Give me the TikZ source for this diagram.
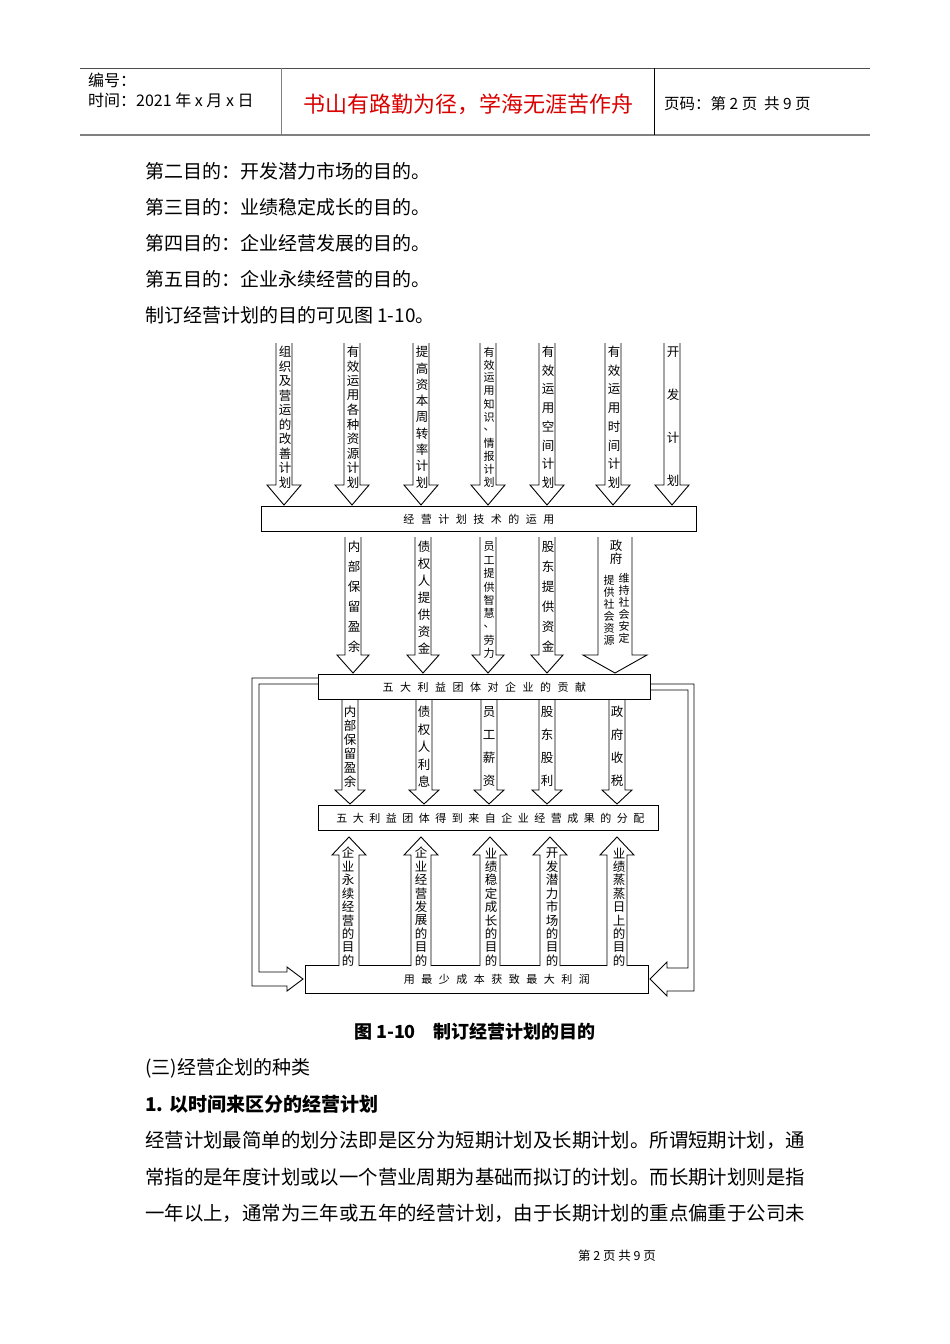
\documentclass[tikz,border=0pt]{standalone}
\usepackage{fontspec}
\setmainfont{Noto Sans CJK SC}
\newcommand\dnarrow[6]{\draw[arr] ({#1-#5},{-#2}) -- ({#1-#5},{-#3}) -- ({#1-#6},{-#3}) -- (#1,{-#4}) -- ({#1+#6},{-#3}) -- ({#1+#5},{-#3}) -- ({#1+#5},{-#2});}
\newcommand\vtext[4]{\foreach \c [count=\i] in {#4} \node[vt] at (#1,{-(#2+(\i-1)*#3)}) {\c};}
\newcommand\vtextS[4]{\foreach \c [count=\i] in {#4} \node[vt,font=\fontsize{11}{12}\selectfont] at (#1,{-(#2+(\i-1)*#3)}) {\c};}
\newcommand\gp{\hspace{6.5pt}}
\begin{document}
\begin{tikzpicture}[x=1pt,y=1pt,
 arr/.style={draw=black,line width=0.9pt,fill=white,line join=miter},
 vt/.style={font=\fontsize{12.5}{13}\selectfont,inner sep=0pt},
 boxs/.style={draw=black,line width=0.9pt,fill=white},
 btxt/.style={font=\fontsize{11}{12}\selectfont},
 body/.style={anchor=west,inner sep=0pt,font=\fontsize{19}{20}\selectfont},
 para/.style={anchor=west,inner sep=0pt,font=\fontsize{19.4}{20}\selectfont}]
\useasboundingbox (0,0) rectangle (950,-1344);
% header
\draw[line width=0.8pt,gray!60!black] (80,-68) -- (870,-68);
\draw[line width=1.2pt,gray] (80,-135) -- (870,-135);
\draw[line width=0.8pt,gray] (281,-68) -- (281,-135);
\draw[line width=0.8pt,black] (654,-68) -- (654,-135);
\node[anchor=west,inner sep=0pt,font=\fontsize{16}{17}\selectfont] (h1) at (88,-80) {编号：};
\node[anchor=west,inner sep=0pt,font=\fontsize{16}{17}\selectfont] (h2) at (88,-100) {时间：2021 年 x 月 x 日};
\node[inner sep=0pt,text=red!85!black,font=\fontsize{22}{23}\selectfont] (h3) at (468,-104) {书山有路勤为径，学海无涯苦作舟};
\node[anchor=west,inner sep=0pt,font=\fontsize{15.5}{16}\selectfont] (h4) at (664,-104) {页码：第 2 页\ \ 共 9 页};
% body
\node[body] (t1) at (145,-171) {第二目的：开发潜力市场的目的。};
\node[body] (t2) at (145,-207) {第三目的：业绩稳定成长的目的。};
\node[body] (t3) at (145,-243) {第四目的：企业经营发展的目的。};
\node[body] (t4) at (145,-279) {第五目的：企业永续经营的目的。};
\node[body] (t5) at (145,-315) {制订经营计划的目的可见图 1-10。};
% top arrows
\foreach \xx in {284,352,421,488,547,613,672}{\dnarrow{\xx}{343}{485}{505}{8}{17}}
\vtext{285}{352}{14.5}{组,织,及,营,运,的,改,善,计,划}
\vtext{353}{352}{14.5}{有,效,运,用,各,种,资,源,计,划}
\vtext{422}{352}{16.3}{提,高,资,本,周,转,率,计,划}
\vtextS{489}{352}{13}{有,效,运,用,知,识,、,情,报,计,划}
\vtext{548}{352}{18.7}{有,效,运,用,空,间,计,划}
\vtext{614}{352}{18.7}{有,效,运,用,时,间,计,划}
\vtext{673}{352}{43}{开,发,计,划}
\node[boxs,minimum width=435pt,minimum height=25pt,anchor=north west,inner sep=0pt] (b1) at (261,-506) {};
\node[btxt] at (b1) {经\gp 营\gp 计\gp 划\gp 技\gp 术\gp 的\gp 运\gp 用};
% second row
\foreach \xx in {353,423,488,547}{\dnarrow{\xx}{537}{655}{673}{8}{16}}
\dnarrow{615}{537}{655}{673}{17}{32}
\vtext{354}{547}{20}{内,部,保,留,盈,余}
\vtext{424}{547}{17}{债,权,人,提,供,资,金}
\vtextS{489}{547}{13.3}{员,工,提,供,智,慧,、,劳,力}
\vtext{548}{547}{20}{股,东,提,供,资,金}
\vtext{616}{546}{12.5}{政,府}
\vtextS{624}{578}{12}{维,持,社,会,安,定}
\vtextS{609}{580}{12}{提,供,社,会,资,源}
\node[boxs,minimum width=332pt,minimum height=25pt,anchor=north west,inner sep=0pt] (b2) at (318,-674) {};
\node[btxt] at (b2) {五\gp 大\gp 利\gp 益\gp 团\gp 体\gp 对\gp 企\gp 业\gp 的\gp 贡\gp 献};
% third row
\foreach \xx in {350,424,489,547,617}{\dnarrow{\xx}{700}{790}{804}{8}{15}}
\vtext{350}{712}{14}{内,部,保,留,盈,余}
\vtext{424}{712}{17.5}{债,权,人,利,息}
\vtext{489}{712}{23}{员,工,薪,资}
\vtext{547}{712}{23}{股,东,股,利}
\vtext{617}{712}{23}{政,府,收,税}
\node[boxs,minimum width=340pt,minimum height=25pt,anchor=north west,inner sep=0pt] (b3) at (318,-805) {};
\node[btxt] at ([xshift=2pt]b3) {五\hspace{5.5pt}大\hspace{5.5pt}利\hspace{5.5pt}益\hspace{5.5pt}团\hspace{5.5pt}体\hspace{5.5pt}得\hspace{5.5pt}到\hspace{5.5pt}来\hspace{5.5pt}自\hspace{5.5pt}企\hspace{5.5pt}业\hspace{5.5pt}经\hspace{5.5pt}营\hspace{5.5pt}成\hspace{5.5pt}果\hspace{5.5pt}的\hspace{5.5pt}分\hspace{5.5pt}配};
% bottom box then up arrows
\node[boxs,minimum width=343pt,minimum height=28pt,anchor=north west,inner sep=0pt] (b4) at (305,-965) {};
\node[btxt] at ([xshift=20pt]b4) {用\gp 最\gp 少\gp 成\gp 本\gp 获\gp 致\gp 最\gp 大\gp 利\gp 润};
\foreach \xx in {349,421,490,550,617}{
 \draw[arr] ({\xx-10},-966) -- ({\xx-10},-855) -- ({\xx-17},-855) -- (\xx,-837) -- ({\xx+17},-855) -- ({\xx+10},-855) -- ({\xx+10},-966);}
\vtext{348}{853}{13.5}{企,业,永,续,经,营,的,目,的}
\vtext{421}{853}{13.5}{企,业,经,营,发,展,的,目,的}
\vtext{491}{853}{13.5}{业,绩,稳,定,成,长,的,目,的}
\vtext{552}{853}{13.5}{开,发,潜,力,市,场,的,目,的}
\vtext{619}{853}{13.5}{业,绩,蒸,蒸,日,上,的,目,的}
% loop arrows
\draw[arr,fill=none] (318,-678) -- (252,-678) -- (252,-986) -- (287,-986) -- (287,-991) -- (303,-979) -- (287,-967) -- (287,-972) -- (259,-972) -- (259,-684) -- (318,-684);
\draw[arr,fill=none] (650,-684) -- (694,-684) -- (694,-991) -- (667,-991) -- (667,-996) -- (650,-979) -- (667,-962) -- (667,-968) -- (688,-968) -- (688,-690) -- (650,-690);
% captions
\node[inner sep=0pt,font=\fontsize{18}{19}\selectfont\bfseries] (cap) at (475,-1032) {图 1-10\quad 制订经营计划的目的};
\node[body] (s1) at (145,-1068) {(三)经营企划的种类};
\node[body,font=\fontsize{19}{20}\selectfont\bfseries] (s2) at (145,-1104) {1. 以时间来区分的经营计划};
\node[para] (p1) at (145,-1140) {经营计划最简单的划分法即是区分为短期计划及长期计划。所谓短期计划，通};
\node[para] (p2) at (145,-1177) {常指的是年度计划或以一个营业周期为基础而拟订的计划。而长期计划则是指};
\node[para] (p3) at (145,-1213) {一年以上，通常为三年或五年的经营计划，由于长期计划的重点偏重于公司未};
\node[inner sep=0pt,font=\fontsize{12.5}{13}\selectfont] (ft) at (617,-1256) {第 2 页 共 9 页};
\end{tikzpicture}
\end{document}
